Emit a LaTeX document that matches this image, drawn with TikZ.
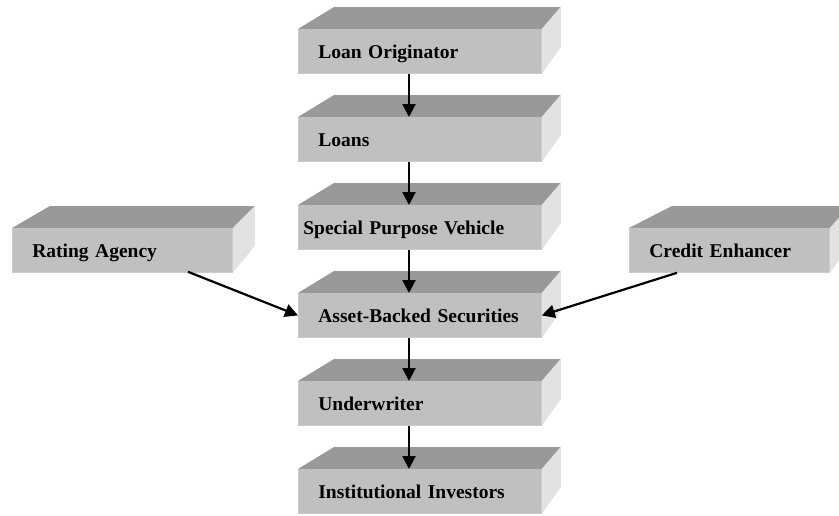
\documentclass[tikz,border=0pt]{standalone}
\usepackage{fontspec}
\setmainfont{Liberation Serif}
\usetikzlibrary{arrows.meta,calc}

\definecolor{frontgray}{HTML}{C0C0C0}
\definecolor{topgray}{HTML}{999999}
\definecolor{sidegray}{HTML}{E2E2E2}
\definecolor{edgegray}{HTML}{CBCBCB}

\tikzset{
  slab/.style={rectangle, anchor=north west, fill=frontgray, draw=edgegray,
    line width=0.8pt, minimum height=44pt, inner ysep=0pt, inner xsep=20pt,
    text height=29pt, text depth=15pt, align=left,
    font=\fontsize{19.5}{22}\selectfont\bfseries},
  flow/.style={line width=2.2pt, -{Triangle[width=13pt,length=13pt]}},
}

% top and right faces of a slab, drawn behind its front
\newcommand\slabfaces[3]{%
  \fill[topgray] (#1.north west) -- ++(#2,-22) -- ($(#1.north east)+(#3,-22)$)
    -- (#1.north east) -- cycle;
  \fill[sidegray] (#1.north east) -- ++(#3,-22) -- ++(0,40) -- (#1.south east) -- cycle;
}

\begin{document}
\begin{tikzpicture}[x=1pt,y=-1pt]
\useasboundingbox (0,0) rectangle (839,515);

% main chain
\node[slab, text width=203pt] (lo)  at (298,29)  {Loan Originator};
\node[slab, text width=203pt] (ln)  at (298,117) {Loans};
\node[slab, text width=233pt, inner xsep=5pt] (spv) at (298,205) {Special Purpose Vehicle};
\node[slab, text width=203pt] (abs) at (298,293) {Asset-Backed Securities};
\node[slab, text width=203pt] (uw)  at (298,381) {Underwriter};
\node[slab, text width=203pt] (ii)  at (298,469) {Institutional Investors};

% side parties
\node[slab, text width=180pt] (ra) at (12,228)  {Rating Agency};
\node[slab, text width=160pt] (ce) at (629,228) {Credit Enhancer};

\foreach \n in {lo,ln,spv,abs,uw,ii}{\slabfaces{\n}{36}{19}}
\slabfaces{ra}{38}{22}
\slabfaces{ce}{43}{20}

% vertical flow
\foreach \a/\b in {lo/ln, ln/spv, spv/abs, abs/uw, uw/ii}{
  \draw[flow] ($(\a.south west)+(111,0)$) -- ($(\b.north west)+(111,0)$);
}

% side flows into the securities
\draw[flow] ($(ra.south west)+(176,-1)$) -- (abs.west);
\draw[flow] ($(ce.south west)+(48,0)$) -- (abs.east);
\end{tikzpicture}
\end{document}
